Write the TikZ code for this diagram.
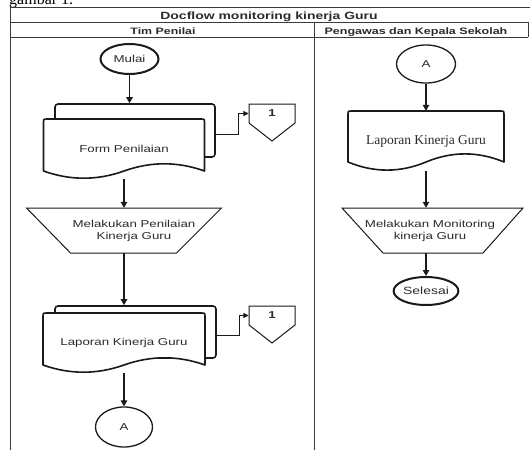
\documentclass[tikz,border=0pt]{standalone}
\usepackage{fontspec}
\usetikzlibrary{arrows.meta,shapes.geometric,calc}

\newfontfamily\lanesans{Liberation Sans}[FakeStretch=1.33]
\newfontfamily\laneserif{Liberation Serif}

\definecolor{inkline}{HTML}{1A1A1A}
\definecolor{inktext}{HTML}{2B2B2B}
\definecolor{frameline}{HTML}{3A3A3A}

\tikzset{
  frame/.style={draw=frameline, line width=0.9pt},
  flow/.style={draw=inkline, line width=1.2pt, -{Triangle[length=6pt,width=6.5pt]}},
  jump/.style={draw=inkline, line width=1pt, -{Triangle[length=5.5pt,width=5pt]}},
  bodyfont/.style={font=\lanesans\fontsize{10}{12}\selectfont},
  terminal/.style={ellipse, draw=inkline, line width=2pt, fill=white, inner sep=0pt, text=inktext, bodyfont},
  linkpoint/.style={ellipse, draw=inkline, line width=1.3pt, fill=white, inner sep=0pt, text=inktext, bodyfont},
  docline/.style={draw=inkline, line width=1.6pt, fill=white, line join=round},
  backpage/.style={rectangle, rounded corners=3pt, draw=inkline, line width=1.6pt, fill=white, inner sep=0pt},
  manual/.style={draw=inkline, line width=1pt, fill=white},
  label/.style={inner sep=0pt, text=inktext, align=center},
}

% document symbol with a wavy lower edge: name, cx, cy, width, height, wave, font, text
\newcommand\docnode[8]{%
  \pgfmathsetmacro\dxa{#2-#4/2}%
  \pgfmathsetmacro\dxb{#2+#4/2}%
  \pgfmathsetmacro\dya{#3-#5/2}%
  \pgfmathsetmacro\dys{#3+#5/2-#6/2}%
  \pgfmathsetmacro\dup{\dys-0.6*#6}%
  \pgfmathsetmacro\ddn{\dys+0.6*#6}%
  \draw[docline] ({\dxa},{\dys}) -- ({\dxa},{\dya+3}) .. controls ({\dxa},{\dya}) .. ({\dxa+3},{\dya})
     -- ({\dxb-3},{\dya}) .. controls ({\dxb},{\dya}) .. ({\dxb},{\dya+3}) -- ({\dxb},{\dys})
     .. controls ({\dxb-#4/6},{\dup}) and ({\dxb-#4/3},{\dup}) .. ({#2},{\dys})
     .. controls ({#2-#4/6},{\ddn}) and ({#2-#4/3},{\ddn}) .. ({\dxa},{\dys}) -- cycle;
  \node[label, minimum width=#4pt, minimum height=#5pt, font=#7] (#1) at (#2,#3) {#8};
}

% off-page connector: name, cx, top, text
\newcommand\offpage[4]{%
  \draw[manual] ({#2-23},{#3}) -- ({#2+23},{#3}) -- ({#2+23},{#3+19}) -- ({#2},{#3+37}) -- ({#2-23},{#3+19}) -- cycle;
  \node[label, minimum width=46pt, minimum height=19pt, font=\lanesans\bfseries\fontsize{10}{12}\selectfont] (#1) at ({#2},{#3+9.5}) {#4};
}

% manual operation: cx, cy, top width, left inset, right inset, height
\newcommand\manualshape[6]{%
  \draw[manual] ({#1-#3/2},{#2-#6/2}) -- ({#1+#3/2},{#2-#6/2}) -- ({#1+#3/2-#5},{#2+#6/2}) -- ({#1-#3/2+#4},{#2+#6/2}) -- cycle;
}

\begin{document}
\begin{tikzpicture}[x=1pt,y=-1pt]
  \useasboundingbox (0,0) rectangle (530,450);
  \clip (0,0) rectangle (530,450);

  % caption line running above the diagram
  \node[anchor=base west, inner sep=0pt, font=\laneserif\fontsize{16}{18}\selectfont] (caption) at (9,4.5) {gambar 1.};

  % swimlane frame
  \draw[frame] (10,7) -- (530,7);
  \draw[frame] (10,22) -- (528,22);
  \draw[frame] (10,37) -- (528,37);
  \draw[frame] (528,22) -- (528,37);
  \draw[frame] (10,7) -- (10,450);
  \draw[frame] (314,22) -- (314,450);

  \node[label, anchor=base, font=\lanesans\bfseries\fontsize{10.5}{12}\selectfont] (title) at (269,19.3) {Docflow monitoring kinerja Guru};
  \node[label, anchor=base, font=\lanesans\bfseries\fontsize{9.3}{12}\selectfont] (laneA) at (163,34.2) {Tim Penilai};
  \node[label, anchor=base, font=\lanesans\bfseries\fontsize{9.4}{12}\selectfont] (laneB) at (416,34.2) {Pengawas dan Kepala Sekolah};

  % ---- Tim Penilai ----
  \node[terminal, minimum width=58pt, minimum height=30pt] (mulai) at (129.5,59) {Mulai};

  \node[backpage, minimum width=160pt, minimum height=53pt] (back1) at (135,130.5) {};
  \docnode{form}{124}{149}{161}{60}{16}{\lanesans\fontsize{10}{12}\selectfont}{Form Penilaian}
  \offpage{off1}{272}{104}{1}

  \manualshape{124}{230.5}{195}{44}{45}{45}
  \node[label, bodyfont, minimum height=45pt] (nilai) at (134,230.5) {Melakukan Penilaian\\Kinerja Guru};

  \node[backpage, minimum width=161pt, minimum height=52pt] (back2) at (135.5,332) {};
  \docnode{lapor1}{124}{343}{162}{60}{16}{\lanesans\fontsize{10}{12}\selectfont}{Laporan Kinerja Guru}
  \offpage{off2}{272}{306}{1}

  \node[linkpoint, minimum width=57pt, minimum height=40pt] (aleft) at (124,427) {A};

  \draw[flow] (mulai.south) -- (mulai.south |- back1.north);
  \draw[jump] ($(back1.east)+(0,3.5)$) -- ++(23,0) |- (off1.west);
  \draw[flow] (form.south) -- (form.south |- nilai.north);
  \draw[flow] (form.south |- nilai.south) -- (form.south |- back2.north);
  \draw[jump] ($(back2.east)+(0,3)$) -- ++(22.5,0) |- (off2.west);
  \draw[flow] (lapor1.south) -- (aleft.north);

  % ---- Pengawas dan Kepala Sekolah ----
  \node[linkpoint, minimum width=59pt, minimum height=38pt] (aright) at (426,64) {A};
  \docnode{lapor2}{426}{141}{156}{60}{18}{\laneserif\fontsize{13.5}{16}\selectfont}{Laporan Kinerja Guru}

  \manualshape{432.5}{230.5}{181}{41}{40}{45}
  \node[label, bodyfont, minimum height=45pt] (monit) at (430,230.5) {Melakukan Monitoring\\kinerja Guru};

  \node[terminal, minimum width=60pt, minimum height=28pt, font=\lanesans\fontsize{10.5}{12}\selectfont] (selesai) at (426,291) {Selesai};

  \draw[flow] (aright.south) -- (lapor2.north);
  \draw[flow] (lapor2.south) -- (lapor2.south |- monit.north);
  \draw[flow] (selesai |- monit.south) -- (selesai.north);
\end{tikzpicture}
\end{document}
